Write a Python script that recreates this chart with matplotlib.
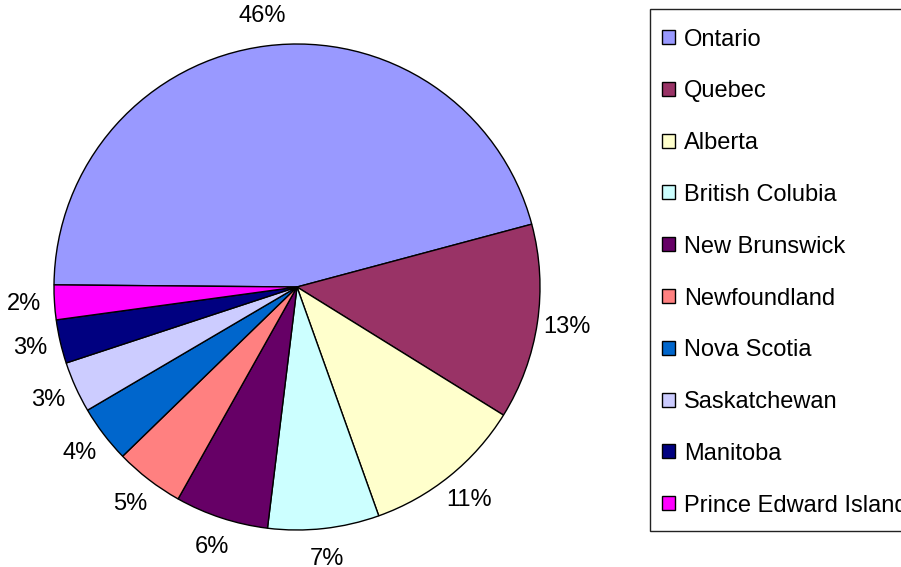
import numpy as np
import matplotlib
matplotlib.use("Agg")
import matplotlib.pyplot as plt
from matplotlib.patches import Rectangle

provinces = ["Ontario", "Quebec", "Alberta", "British Colubia", "New Brunswick",
             "Newfoundland", "Nova Scotia", "Saskatchewan", "Manitoba",
             "Prince Edward Island"]
shares = [45.7, 13.0, 10.7, 7.4, 6.2, 4.6, 3.8, 3.4, 2.9, 2.3]
colors = ["#9999FF", "#993366", "#FFFFCC", "#CCFFFF", "#660066",
          "#FF8080", "#0066CC", "#CCCCFF", "#000080", "#FF00FF"]

plt.rcParams['font.family'] = ['Liberation Sans', 'DejaVu Sans']
FS = 17

W, H = 901, 567
fig = plt.figure(figsize=(W / 100, H / 100), dpi=100)

# pie axes: center (297,287) px, radius 243 px
cx, cy, R = 297, 287, 243
ax = fig.add_axes([(cx - R) / W, (H - (cy + R)) / H, 2 * R / W, 2 * R / H])
wedges, _ = ax.pie(shares, colors=colors, startangle=179.5, counterclock=False,
                   radius=1.0,
                   wedgeprops=dict(edgecolor="black", linewidth=1.0))
ax.set_xlim(-1, 1)
ax.set_ylim(-1, 1)
ax.set_aspect('auto')
ax.axis('off')

total = sum(shares)
for w, v in zip(wedges, shares):
    mid = np.deg2rad((w.theta1 + w.theta2) / 2)
    d = 1.125
    ax.text(d * np.cos(mid), d * np.sin(mid), "%1.0f%%" % (100 * v / total),
            ha='center', va='center', fontsize=FS, clip_on=False)

# legend box
def fx(px):
    return px / W

def fy(py):
    return 1 - py / H

box = Rectangle((fx(650), fy(531)), fx(950) - fx(650), fy(9) - fy(531),
                transform=fig.transFigure, facecolor='white', edgecolor='#222222',
                linewidth=1.0, zorder=0)
fig.patches.append(box)

y0, dy = 37, 51.8
for i, (name, c) in enumerate(zip(provinces, colors)):
    yc = y0 + i * dy
    sq = Rectangle((fx(662), fy(yc + 7)), fx(13), 14 / H,
                   transform=fig.transFigure, facecolor=c, edgecolor='black',
                   linewidth=1.0)
    fig.patches.append(sq)
    fig.text(fx(684), fy(yc + 8.5), name, ha='left', va='baseline', fontsize=FS)

fig.savefig("out.png", dpi=100)
